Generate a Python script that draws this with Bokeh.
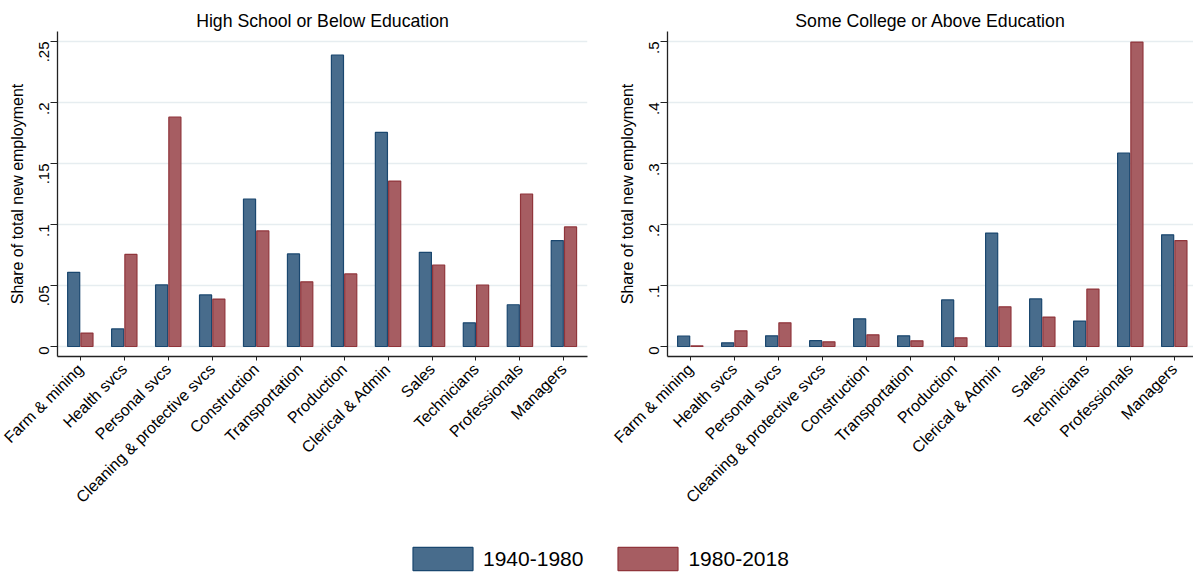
import math
from bokeh.plotting import figure
from bokeh.models import Range1d, FixedTicker, ColumnDataSource, Legend, LegendItem
from bokeh.layouts import column, row
from bokeh.transform import dodge
from bokeh.embed import file_html
from bokeh.resources import INLINE

# ---------------- data ----------------
categories = ["Farm & mining", "Health svcs", "Personal svcs", "Cleaning & protective svcs",
              "Construction", "Transportation", "Production", "Clerical & Admin",
              "Sales", "Technicians", "Professionals", "Managers"]
series_labels = ["1940-1980", "1980-2018"]

hs_1940_1980 = [0.0608, 0.0144, 0.0505, 0.0423, 0.1209, 0.0759, 0.2388, 0.1755, 0.0772, 0.0194, 0.0342, 0.0868]
hs_1980_2018 = [0.0110, 0.0755, 0.1880, 0.0389, 0.0947, 0.0530, 0.0595, 0.1356, 0.0668, 0.0504, 0.1250, 0.0980]
col_1940_1980 = [0.0172, 0.0060, 0.0175, 0.0096, 0.0453, 0.0175, 0.0764, 0.1860, 0.0780, 0.0417, 0.3170, 0.1830]
col_1980_2018 = [0.0010, 0.0257, 0.0388, 0.0077, 0.0191, 0.0093, 0.0142, 0.0650, 0.0483, 0.0942, 0.4990, 0.1736]

hs_ticks = [0, 0.05, 0.1, 0.15, 0.2, 0.25]
hs_tick_labels = ["0", ".05", ".1", ".15", ".2", ".25"]
col_ticks = [0, 0.1, 0.2, 0.3, 0.4, 0.5]
col_tick_labels = ["0", ".1", ".2", ".3", ".4", ".5"]

titles = ["High School or Below Education", "Some College or Above Education"]
y_label = "Share of total new employment"

# ---------------- style ----------------
FONT = "Liberation Sans"
BLUE_FILL, BLUE_LINE = "#486c8c", "#1a476f"
RED_FILL, RED_LINE = "#a65d62", "#90353b"
GRID = "#e6edf0"
AXIS = "#222222"
TOP_H = 537
TOTAL_H = 573


def panel(title, v1, v2, ticks, tick_labels, width, border_left, border_right, x_lo, x_hi):
    pos = list(range(1, len(categories) + 1))
    src = ColumnDataSource(dict(x=pos, a=v1, b=v2))
    step = ticks[1] - ticks[0]
    p = figure(width=width, height=TOP_H, output_backend="svg", toolbar_location=None,
               x_range=Range1d(x_lo, x_hi),
               y_range=Range1d(-0.164 * step, ticks[-1] + 0.164 * step),
               min_border_left=border_left, min_border_right=border_right,
               min_border_top=31, min_border_bottom=181)
    p.background_fill_color = "white"
    p.border_fill_color = "white"
    p.outline_line_color = None

    p.title.text = title
    p.title.align = "center"
    p.title.text_font = FONT
    p.title.text_font_size = "17.7px"
    p.title.text_font_style = "normal"
    p.title.text_color = "black"
    p.title.standoff = 1

    p.vbar(x=dodge("x", -0.151, range=p.x_range), top="a", width=0.275, bottom=0,
           source=src, fill_color=BLUE_FILL, line_color=BLUE_LINE, line_width=1.2)
    p.vbar(x=dodge("x", 0.151, range=p.x_range), top="b", width=0.275, bottom=0,
           source=src, fill_color=RED_FILL, line_color=RED_LINE, line_width=1.2)

    p.xgrid.visible = False
    p.ygrid.grid_line_color = GRID
    p.ygrid.grid_line_width = 1.6

    ya = p.yaxis[0]
    ya.ticker = FixedTicker(ticks=ticks)
    ya.major_label_overrides = dict(zip(ticks, tick_labels))
    ya.major_label_orientation = math.pi / 2
    ya.major_label_text_font = FONT
    ya.major_label_text_font_size = "15px"
    ya.major_label_text_color = "black"
    ya.major_label_standoff = 6
    ya.major_tick_out = 7
    ya.major_tick_in = 0
    ya.minor_tick_out = 0
    ya.minor_tick_in = 0
    ya.major_tick_line_color = AXIS
    ya.axis_line_color = AXIS
    ya.axis_line_width = 1.3
    ya.axis_label = y_label
    ya.axis_label_text_font = FONT
    ya.axis_label_text_font_size = "16px"
    ya.axis_label_text_font_style = "normal"
    ya.axis_label_text_color = "black"
    ya.axis_label_standoff = 6

    xa = p.xaxis[0]
    xa.ticker = FixedTicker(ticks=pos)
    xa.major_label_overrides = dict(zip(pos, categories))
    xa.major_label_orientation = math.pi / 4
    xa.major_label_text_font = FONT
    xa.major_label_text_font_size = "16px"
    xa.major_label_text_color = "black"
    xa.major_label_standoff = 6
    xa.major_tick_out = 4
    xa.major_tick_in = 0
    xa.minor_tick_out = 0
    xa.minor_tick_in = 0
    xa.major_tick_line_color = AXIS
    xa.axis_line_color = AXIS
    xa.axis_line_width = 1.3
    return p


p1 = panel(titles[0], hs_1940_1980, hs_1980_2018, hs_ticks, hs_tick_labels,
           610, 57, 23, 0.481, 12.537)
p2 = panel(titles[1], col_1940_1980, col_1980_2018, col_ticks, col_tick_labels,
           583, 57, 0, 0.482, 12.437)

# legend strip (legend-only renderers kept outside the visible range)
lf = figure(width=1193, height=TOTAL_H - TOP_H, output_backend="svg", toolbar_location=None,
            min_border=0, x_range=Range1d(0, 1), y_range=Range1d(0, 1))
lf.axis.visible = False
lf.grid.visible = False
lf.outline_line_color = None
lf.background_fill_color = "white"
lf.border_fill_color = "white"
r1 = lf.vbar(x=[-5], top=[-5], bottom=[-6], width=0.1, fill_color=BLUE_FILL, line_color=BLUE_LINE, line_width=1.2)
r2 = lf.vbar(x=[-5], top=[-5], bottom=[-6], width=0.1, fill_color=RED_FILL, line_color=RED_LINE, line_width=1.2)
# vbar legend swatches are drawn inset by 10% of the glyph box
legend = Legend(items=[LegendItem(label=series_labels[0], renderers=[r1]),
                       LegendItem(label=series_labels[1], renderers=[r2])],
                orientation="horizontal", location=(405, 0),
                glyph_width=75, glyph_height=29, label_text_font=FONT,
                label_text_font_size="21px", label_text_color="black",
                label_standoff=3, spacing=27, padding=0, margin=0,
                border_line_color=None, background_fill_alpha=0)
lf.add_layout(legend, "center")

layout = column(row(p1, p2, spacing=0), lf, spacing=0)
open("out.html", "w").write(file_html(layout, INLINE))
